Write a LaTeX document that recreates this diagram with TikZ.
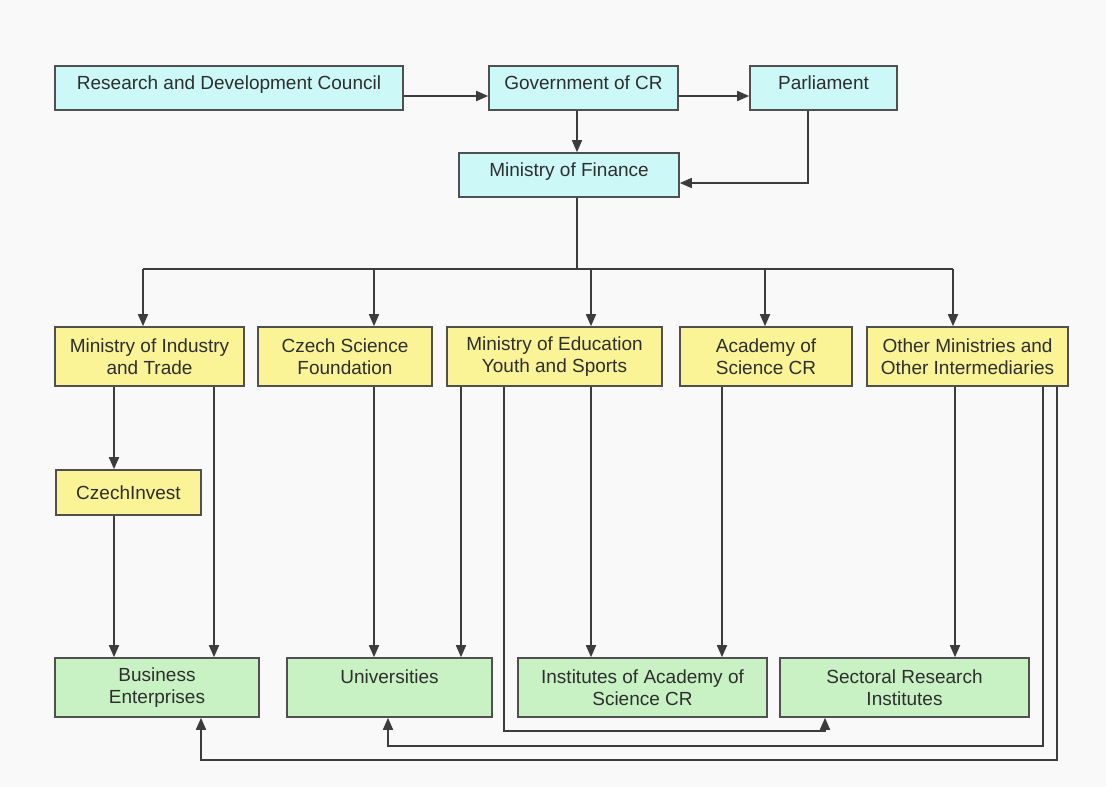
\documentclass[tikz,border=0pt]{standalone}
\usepackage{fontspec}
\setmainfont{Liberation Sans}
\usetikzlibrary{arrows.meta}
\definecolor{bgc}{HTML}{F9F9F9}
\definecolor{topc}{HTML}{CCF8F8}
\definecolor{midc}{HTML}{FAF496}
\definecolor{botc}{HTML}{C8F2C4}
\definecolor{edgec}{HTML}{505050}
\definecolor{linec}{HTML}{3C3C3C}
\definecolor{txtc}{HTML}{2E2E2E}
\begin{document}
\begin{tikzpicture}[x=1pt,y=-1pt,
  box/.style={draw=edgec, line width=1.6pt, inner sep=0pt, align=center,
    text=txtc, font=\fontsize{19}{21.7}\selectfont},
  topbox/.style={box, fill=topc, text depth=11pt},
  midbox/.style={box, fill=midc},
  botbox/.style={box, fill=botc},
  conn/.style={draw=linec, line width=1.7pt},
  arr/.style={conn, -{Triangle[length=12pt,width=10pt]}}
]
\fill[bgc] (0,0) rectangle (1106,787);
\useasboundingbox (0,0) rectangle (1106,787);

\node[topbox, minimum width=348, minimum height=44] (rdc) at (229,88) {Research and Development Council};
\node[topbox, minimum width=189, minimum height=44] (gov) at (583.5,88) {Government of CR};
\node[topbox, minimum width=147, minimum height=44] (parl) at (823.5,88) {Parliament};
\node[topbox, minimum width=220, minimum height=44] (mof) at (569,175) {Ministry of Finance};

\node[midbox, minimum width=189, minimum height=59] (mit) at (149.5,356.5) {Ministry of Industry\\and Trade};
\node[midbox, minimum width=174, minimum height=59] (csf) at (345,356.5) {Czech Science\\Foundation};
\node[midbox, minimum width=215, minimum height=59] (meys) at (554.5,356.5) {Ministry of Education\\Youth and Sports};
\node[midbox, minimum width=172, minimum height=59] (ascr) at (766,356.5) {Academy of\\Science CR};
\node[midbox, minimum width=201, minimum height=59] (omoi) at (967.5,356.5) {Other Ministries and\\Other Intermediaries};
\node[midbox, minimum width=145, minimum height=45] (czi) at (128.5,492.5) {CzechInvest};

\node[botbox, minimum width=204, minimum height=59] (bus) at (157,687.5) {Business\\Enterprises};
\node[botbox, minimum width=205, minimum height=59] (uni) at (389.5,687.5) {Universities\\\mbox{}};
\node[botbox, minimum width=249, minimum height=59] (inst) at (642.5,687.5) {Institutes of Academy of\\Science CR};
\node[botbox, minimum width=249, minimum height=59] (sect) at (904.5,687.5) {Sectoral Research\\Institutes};

% column / row coordinates
\foreach \c in {114,143,201,214,374,388,461,504,577,591,722,765,808,825,953,955,1043,1057}
  \coordinate (v\c) at (\c,0);
\coordinate (bus0) at (0,269);
\coordinate (h731) at (0,731);
\coordinate (h746) at (0,746);
\coordinate (h760) at (0,760);

% top connectors
\draw[arr] ([yshift=-8pt]rdc.east) -- ([yshift=-8pt]gov.west);
\draw[arr] ([yshift=-8pt]gov.east) -- ([yshift=-8pt]parl.west);
\draw[arr] (gov.south -| v577) -- (mof.north -| v577);
\draw[arr] (parl.south -| v808) |- ([yshift=-8pt]mof.east);

% distribution bus
\draw[conn] (mof.south -| v577) -- (v577 |- bus0);
\draw[conn] (v143 |- bus0) -- (v953 |- bus0);
\draw[arr] (v143 |- bus0) -- (mit.north -| v143);
\draw[arr] (v374 |- bus0) -- (csf.north -| v374);
\draw[arr] (v591 |- bus0) -- (meys.north -| v591);
\draw[arr] (v765 |- bus0) -- (ascr.north -| v765);
\draw[arr] (v953 |- bus0) -- (omoi.north -| v953);

% lower connectors
\draw[arr] (mit.south -| v114) -- (czi.north -| v114);
\draw[arr] (czi.south -| v114) -- (bus.north -| v114);
\draw[arr] (mit.south -| v214) -- (bus.north -| v214);
\draw[arr] (csf.south -| v374) -- (uni.north -| v374);
\draw[arr] (meys.south -| v461) -- (uni.north -| v461);
\draw[arr] (meys.south -| v591) -- (inst.north -| v591);
\draw[arr] (ascr.south -| v722) -- (inst.north -| v722);
\draw[arr] (omoi.south -| v955) -- (sect.north -| v955);

% loops at the bottom
\draw[arr] (meys.south -| v504) -- (v504 |- h731) -| (sect.south -| v825);
\draw[arr] (omoi.south -| v1043) -- (v1043 |- h746) -| (uni.south -| v388);
\draw[arr] (omoi.south -| v1057) -- (v1057 |- h760) -| (bus.south -| v201);
\end{tikzpicture}
\end{document}
